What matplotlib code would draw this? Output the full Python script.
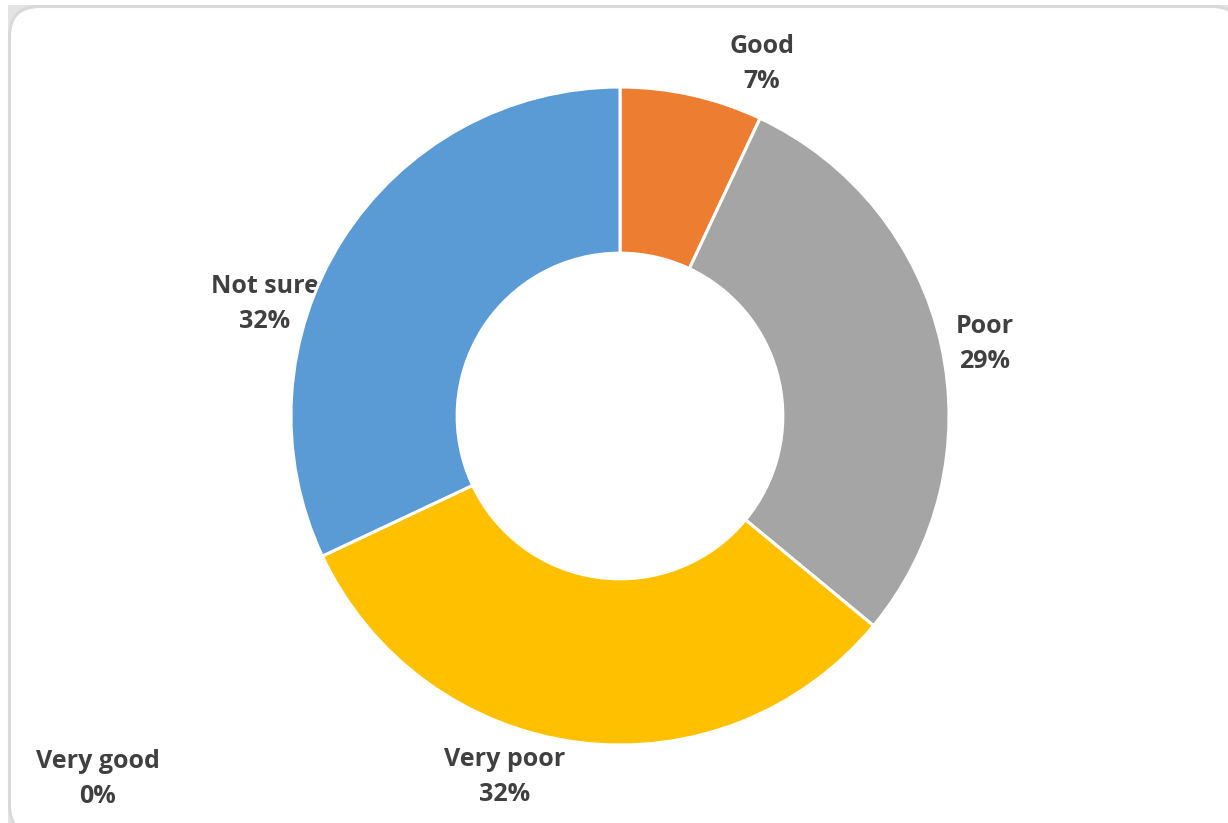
import matplotlib
matplotlib.use("Agg")
import matplotlib.pyplot as plt
from matplotlib.patches import FancyBboxPatch, Rectangle

categories = ["Very good", "Good", "Poor", "Very poor", "Not sure"]
values = [0, 7, 29, 32, 32]
colors = ["#4472C4", "#ED7D31", "#A5A5A5", "#FFC000", "#5B9BD5"]
# label anchor positions in pixels (layout only)
label_px = [(98, 779), (762, 64), (985, 344), (505, 777), (265, 304)]

W, H = 1228, 823
fig = plt.figure(figsize=(W / 100, H / 100), dpi=100)
fig.patch.set_facecolor("white")

# frame: light gray corners + rounded white panel
bg = fig.add_axes([0, 0, 1, 1])
bg.set_xlim(0, W)
bg.set_ylim(H, 0)
bg.axis("off")
bg.add_patch(Rectangle((8, 5), W - 8, H - 5, facecolor="#E4E4E4", edgecolor="none"))
bg.add_patch(FancyBboxPatch((9.5, 6.5), W + 14 - 9.5, H + 12 - 6.5,
                            boxstyle="round,pad=0,rounding_size=30",
                            facecolor="white", edgecolor="#D9D9D9", linewidth=2.2))

cx, cy, r = 620, 416, 329
ax = fig.add_axes([(cx - r) / W, (H - cy - r) / H, 2 * r / W, 2 * r / H])
ax.set_xlim(-1, 1)
ax.set_ylim(-1, 1)
ax.axis("off")
ax.pie(values, colors=colors, startangle=90, counterclock=False, radius=1,
       wedgeprops=dict(width=0.505, edgecolor="white", linewidth=2.2))
ax.set_xlim(-1, 1)
ax.set_ylim(-1, 1)

for cat, v, (px, py) in zip(categories, values, label_px):
    bg.text(px, py, f"{cat}\n{v}%", ha="center", va="center",
            fontsize=18, fontweight="bold", color="#404040",
            family="Open Sans", linespacing=1.55)

fig.savefig("out.png", dpi=100)
